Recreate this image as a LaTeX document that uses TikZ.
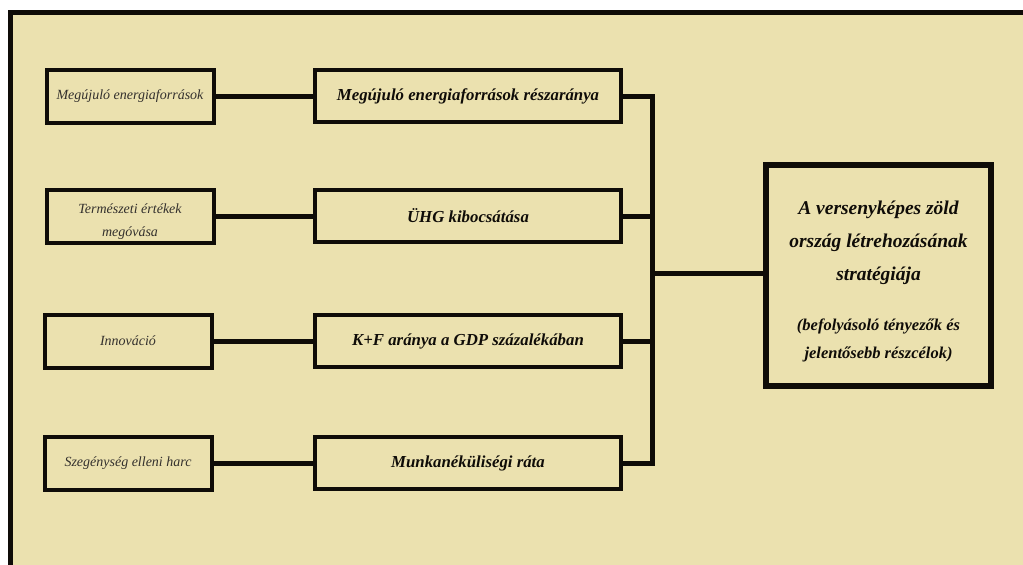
\documentclass[tikz,border=0pt]{standalone}
\usepackage{fontspec}
\setmainfont{Liberation Serif}
\definecolor{paper}{RGB}{235,225,175}
\definecolor{ink}{RGB}{15,12,8}
\begin{document}
\begin{tikzpicture}[x=1pt,y=-1pt,
  leftbox/.style={draw=ink,line width=4pt,fill=paper,minimum width=167pt,minimum height=53pt,inner sep=2pt,align=center,font=\fontsize{14}{23}\selectfont\itshape,text=ink!85},
  midbox/.style={draw=ink,line width=4pt,fill=paper,minimum width=306pt,minimum height=52pt,inner sep=2pt,align=center,font=\fontsize{16.8}{20}\selectfont\bfseries\itshape,text=ink},
  bigbox/.style={draw=ink,line width=6pt,fill=paper,minimum width=225pt,minimum height=221pt,inner sep=2pt,align=center,text=ink,font=\fontsize{19.5}{33}\selectfont\bfseries\itshape},
  conn/.style={draw=ink,line width=5pt}]
\useasboundingbox (0,0) rectangle (1023,565);
\fill[white] (0,0) rectangle (1023,565);
\fill[paper] (10,12) rectangle (1023,565);
\draw[ink,line width=5pt] (10.5,565) -- (10.5,12.5) -- (1023,12.5);

\node[leftbox] (L1) at (130,96) {Megújuló energiaforrások};
\node[leftbox] (L2) at (130,216) {\rule{0pt}{20pt}Természeti értékek\\megóvása};
\node[leftbox] (L3) at (128,341) {Innováció};
\node[leftbox] (L4) at (128,463) {Szegénység elleni harc};

\node[midbox] (M1) at (468,96) {Megújuló energiaforrások részaránya};
\node[midbox] (M2) at (468,216) {ÜHG kibocsátása};
\node[midbox] (M3) at (468,341) {K+F aránya a GDP százalékában};
\node[midbox] (M4) at (468,463) {Munkanéküliségi ráta};

\node[bigbox] (R) at (878.5,275.5) {\rule{0pt}{26pt}A versenyképes zöld\\ország létrehozásának\\stratégiája\\[17pt]\fontsize{16.5}{33}\selectfont (befolyásoló tényezők és\\[-5pt]\fontsize{16.5}{33}\selectfont jelentősebb részcélok)};

\coordinate (bt) at (652,96);
\coordinate (bb) at (652,463);
\coordinate (bm) at (652,273);

\draw[conn] (L1.east) -- (M1.west);
\draw[conn] (L2.east) -- (M2.west);
\draw[conn] (L3.east) -- (M3.west);
\draw[conn] (L4.east) -- (M4.west);

\draw[conn] (M1.east) -- (bt) -- (bb) -- (M4.east);
\draw[conn] (M2.east) -- (M2.east -| bt);
\draw[conn] (M3.east) -- (M3.east -| bt);
\draw[conn] (bm) -- (bm -| R.west);
\end{tikzpicture}
\end{document}
